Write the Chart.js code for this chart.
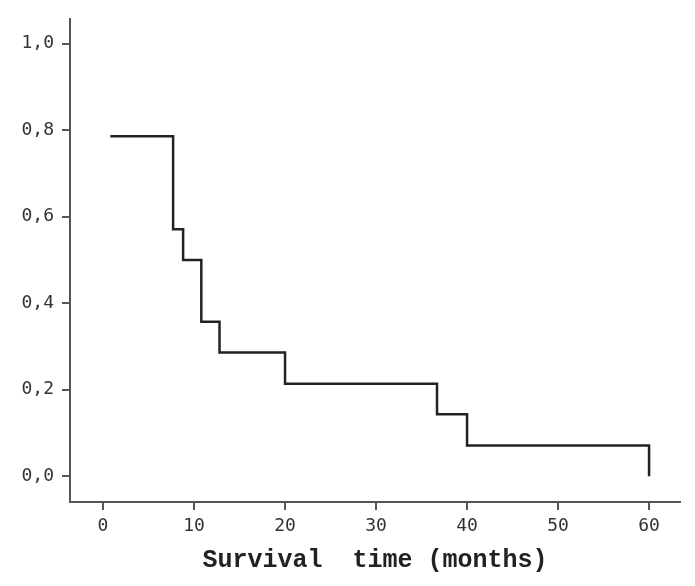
<!DOCTYPE html>
<html><head><meta charset="utf-8">
<script src="https://cdn.jsdelivr.net/npm/chart.js@4"></script>
<style>html,body{margin:0;padding:0;background:#fff}</style>
</head><body>
<canvas id="c" width="695" height="586"></canvas>
<script>
const times = [0.8, 7.7, 8.8, 10.8, 12.8, 20, 36.7, 40, 60, 60];
const survival = [0.786, 0.571, 0.5, 0.357, 0.286, 0.214, 0.143, 0.071, 0.071, 0.0];
const xTicks = [0, 10, 20, 30, 40, 50, 60];
const yTicks = [0, 0.2, 0.4, 0.6, 0.8, 1.0];
const xTitle = 'Survival  time (months)';

const axisColor = '#555';
const tickFont = {family: 'DejaVu Sans Mono', size: 18};
new Chart(document.getElementById('c'), {
  type: 'line',
  data: {datasets: [{
    data: times.map((t, i) => ({x: t, y: survival[i]})),
    stepped: 'before',
    borderColor: '#222',
    borderWidth: 2.5,
    pointRadius: 0,
    fill: false
  }]},
  options: {
    responsive: false,
    animation: false,
    layout: {padding: {top: 15, right: 15, left: 0, bottom: 0}},
    plugins: {legend: {display: false}, tooltip: {enabled: false}},
    scales: {
      x: {
        type: 'linear', min: -3.63, max: 63.4,
        afterBuildTicks: s => { s.ticks = xTicks.map(v => ({value: v})); },
        afterFit: s => { s.height = 84; },
        grid: {drawOnChartArea: false, drawTicks: true, tickLength: 8, color: axisColor, lineWidth: 2},
        border: {display: true, color: axisColor, width: 2},
        ticks: {color: '#333', font: tickFont, padding: 6, maxRotation: 0, autoSkip: false},
        title: {display: true, text: xTitle, color: '#222', font: {family: 'Liberation Mono', size: 25, weight: 'bold'}, padding: {top: 0, bottom: 10}}
      },
      y: {
        type: 'linear', min: -0.0596, max: 1.0573,
        afterBuildTicks: s => { s.ticks = yTicks.map(v => ({value: v})); },
        afterFit: s => { s.width = 70; },
        grid: {drawOnChartArea: false, drawTicks: true, tickLength: 8, color: axisColor, lineWidth: 2},
        border: {display: true, color: axisColor, width: 2},
        ticks: {color: '#333', font: tickFont, padding: 8, autoSkip: false,
          callback: v => v.toFixed(1).replace('.', ',')}
      }
    }
  }
});
</script>
</body></html>
